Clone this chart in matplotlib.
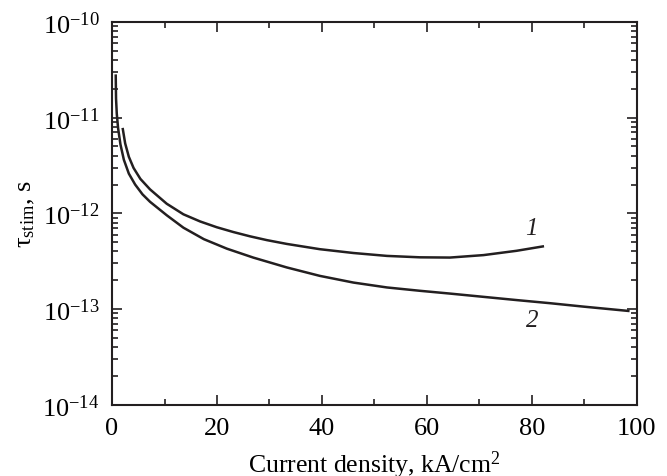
import matplotlib
matplotlib.use("Agg")
import matplotlib.pyplot as plt
from matplotlib.ticker import LogLocator, MultipleLocator, NullFormatter

plt.rcParams['font.family'] = ['Liberation Serif', 'DejaVu Serif']
plt.rcParams['mathtext.fontset'] = 'custom'
plt.rcParams['mathtext.rm'] = 'Liberation Serif'
plt.rcParams['mathtext.it'] = 'Liberation Serif:italic'

# Curve 1 (upper)
x1 = [2.05, 2.5, 3.2, 4.1, 5.4, 7.24, 10.42, 13.6, 16.8, 19.95, 23.1, 26.3,
      29.5, 33.3, 39.6, 46.0, 52.4, 58.7, 64.4, 70.8, 77.1, 82.1]
y1 = [7.59e-12, 5.38e-12, 3.90e-12, 2.98e-12, 2.29e-12, 1.78e-12, 1.26e-12,
      9.77e-13, 8.22e-13, 7.16e-13, 6.38e-13, 5.75e-13, 5.25e-13, 4.79e-13,
      4.22e-13, 3.85e-13, 3.59e-13, 3.47e-13, 3.45e-13, 3.66e-13, 4.06e-13,
      4.51e-13]

# Curve 2 (lower)
x2 = [0.7, 0.76, 0.9, 1.15, 1.6, 2.25, 3.2, 4.4, 5.8, 7.24, 10.42, 13.6,
      17.5, 21.9, 26.9, 33.3, 39.6, 46.0, 52.4, 58.7, 64.4, 70.8, 77.1,
      83.5, 89.8, 98.4]
y2 = [2.75e-11, 1.58e-11, 1.10e-11, 7.76e-12, 5.25e-12, 3.63e-12, 2.60e-12,
      2.00e-12, 1.58e-12, 1.32e-12, 9.55e-13, 7.08e-13, 5.37e-13, 4.27e-13,
      3.45e-13, 2.72e-13, 2.22e-13, 1.89e-13, 1.68e-13, 1.55e-13, 1.45e-13,
      1.34e-13, 1.24e-13, 1.15e-13, 1.06e-13, 9.55e-14]

labels = ["1", "2"]
label_pos = [(80, 7.1e-13), (80, 7.6e-14)]

fig = plt.figure(figsize=(6.67, 4.77), dpi=100)
ax = fig.add_axes([0.168, 0.1495, 0.7866, 0.8023])

ax.plot(x1, y1, color='#231f20', lw=1.8, solid_joinstyle='round')
ax.plot(x2, y2, color='#231f20', lw=1.8, solid_joinstyle='round')
for t, (lx, ly) in zip(labels, label_pos):
    ax.text(lx, ly, t, fontsize=18, style='italic', ha='center', va='center',
            color='#231f20')

ax.set_yscale('log')
ax.set_xlim(0, 100)
ax.set_ylim(1e-14, 1e-10)
ax.xaxis.set_major_locator(MultipleLocator(20))
ax.xaxis.set_minor_locator(MultipleLocator(10))
ax.yaxis.set_major_locator(LogLocator(base=10, numticks=10))
ax.yaxis.set_minor_locator(LogLocator(base=10, subs=range(2, 10), numticks=20))
ax.yaxis.set_minor_formatter(NullFormatter())

for s in ax.spines.values():
    s.set_linewidth(1.5)
    s.set_color('#231f20')
ax.tick_params(which='both', direction='in', top=True, right=True,
               color='#231f20', width=1.2)
ax.tick_params(which='major', length=7, labelsize=19, pad=9)
ax.tick_params(which='minor', length=4)

ax.set_xlabel('Current density, kA/cm$^2$', fontsize=18.5, labelpad=7)
ax.set_ylabel('τ$_{\\rm stim}$, s', fontsize=19, labelpad=4)

fig.savefig('out.png', dpi=100)
